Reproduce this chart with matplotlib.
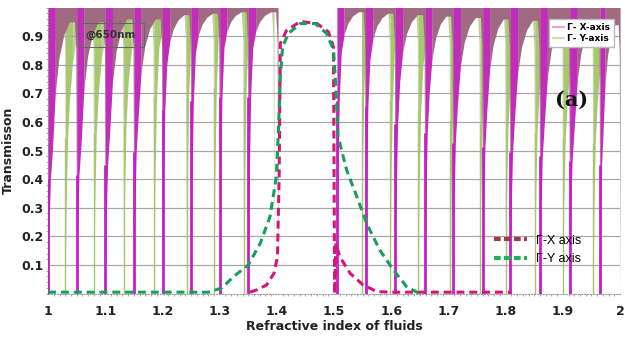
import numpy as np
import matplotlib.pyplot as plt
from matplotlib.lines import Line2D
from matplotlib.ticker import MultipleLocator

# resonance dips of the background spectra (refractive index positions)
x_dips = [1.000, 1.050, 1.100, 1.150, 1.200, 1.250, 1.300, 1.350, 1.402,
          1.505, 1.555, 1.607, 1.659, 1.708, 1.760, 1.808, 1.860, 1.912,
          1.965, 2.000]
# level of the lower envelope a little after each dip, and the arch top
x_shoulder = [0.5, 0.52, 0.56, 0.62, 0.8, 0.84, 0.86, 0.86, 1.0, 0.84,
              0.82, 0.74, 0.7, 0.66, 0.64, 0.62, 0.6, 0.58, 0.56]
x_peak = [0.95, 0.95, 0.96, 0.96, 0.975, 0.98, 0.985, 0.985, 1.0, 0.985, 0.98,
          0.975, 0.97, 0.965, 0.96, 0.955, 0.95, 0.95, 0.94]

y_dips = [1.000, 1.030, 1.080, 1.132, 1.185, 1.242, 1.290, 1.342, 1.395,
          1.548, 1.598, 1.647, 1.703, 1.755, 1.800, 1.851, 1.900, 1.953,
          2.000]
y_shoulder = [0.66, 0.68, 0.7, 0.74, 0.86, 0.88, 0.9, 0.9, 1.0, 0.88, 0.84,
              0.8, 0.76, 0.74, 0.72, 0.7, 0.68, 0.66]
y_peak = [0.96, 0.96, 0.97, 0.97, 0.98, 0.98, 0.985, 0.985, 1.0, 0.985, 0.98,
          0.975, 0.97, 0.97, 0.96, 0.96, 0.96, 0.95]

# transmission at 650 nm along the two directions
gx_n = [1.353, 1.365, 1.382, 1.395, 1.401, 1.404, 1.406, 1.417, 1.441, 1.470,
        1.490, 1.499, 1.501, 1.503, 1.510, 1.528, 1.551, 1.575, 1.600, 1.810]
gx_t = [0.005, 0.013, 0.03, 0.071, 0.129, 0.41, 0.875, 0.92, 0.951, 0.944,
        0.915, 0.862, 0.0, 0.176, 0.129, 0.071, 0.03, 0.007, 0.005, 0.005]

gy_n = [1.000, 1.280, 1.304, 1.324, 1.350, 1.371, 1.388, 1.399, 1.403, 1.406,
        1.410, 1.420, 1.441, 1.467, 1.487, 1.499, 1.502, 1.505, 1.507, 1.522,
        1.540, 1.557, 1.580, 1.604, 1.627, 1.645, 1.650]
gy_t = [0.005, 0.005, 0.02, 0.059, 0.10, 0.176, 0.269, 0.408, 0.583, 0.758,
        0.862, 0.909, 0.944, 0.944, 0.909, 0.852, 0.758, 0.642, 0.549, 0.432,
        0.338, 0.245, 0.152, 0.082, 0.024, 0.005, 0.0]

x_ticks = [1.0, 1.1, 1.2, 1.3, 1.4, 1.5, 1.6, 1.7, 1.8, 1.9, 2.0]
x_ticklabels = ['1', '1.1', '1.2', '1.3', '1.4', '1.5', '1.6', '1.7', '1.8', '1.9', '2']
y_ticks = [0.1, 0.2, 0.3, 0.4, 0.5, 0.6, 0.7, 0.8, 0.9]

# shape of one arch between two dips: fraction of the gap, weights on shoulder / peak
ARCH_T = [0.0, 0.03, 0.08, 0.15, 0.25, 0.38, 0.55, 0.75, 0.92, 0.97, 1.0]
ARCH_A = [0.0, 0.45, 0.8, 1.0, 0.55, 0.28, 0.1, 0.0, 0.0, 0.0, 0.0]
ARCH_B = [0.0, 0.0, 0.0, 0.0, 0.45, 0.72, 0.9, 1.0, 1.0, 0.9, 0.0]
WEDGE_END = 5   # points 0..4 form the coloured wedge next to the dip


def draw_band(ax, dips, shoulder, peak, wedge_col, band_col, line_col, lw, z):
    for i in range(len(dips) - 1):
        if shoulder[i] >= 1.0:
            continue   # flat stretch, no resonances
        a, b = dips[i], dips[i + 1]
        xs = np.array([a + (b - a) * t for t in ARCH_T])
        ys = np.array([wa * shoulder[i] + wb * peak[i]
                       for wa, wb in zip(ARCH_A, ARCH_B)])
        ax.fill_between(xs[WEDGE_END - 1:], ys[WEDGE_END - 1:], 1.0,
                        color=band_col, lw=0, zorder=z)
        ax.fill_between(xs[:WEDGE_END], ys[:WEDGE_END], 1.0,
                        color=wedge_col, lw=0, zorder=z + 0.1)
        ax.plot([a, a], [0.0, 0.8 * shoulder[i]], color=line_col,
                lw=lw, zorder=z + 0.2, solid_capstyle='butt')


fig = plt.figure(figsize=(6.25, 3.41), dpi=100)
ax = fig.add_axes([0.077, 0.139, 0.915, 0.839])

draw_band(ax, y_dips, y_shoulder, y_peak, '#a8c86e', '#bccf9c', '#a6c86b', 1.0, 1)
draw_band(ax, x_dips, x_shoulder, x_peak, '#c22cba', '#a06a82', '#c81ec8', 2.0, 3)

ax.plot(gx_n, gx_t, color='#d4167a', lw=2.2, dashes=(2.6, 1.6), zorder=6)
ax.plot(gy_n, gy_t, color='#1a9e5c', lw=2.2, dashes=(2.6, 1.6), zorder=7)

ax.set_xlim(1.0, 2.0)
ax.set_ylim(0.0, 1.0)
ax.set_xticks(x_ticks)
ax.set_xticklabels(x_ticklabels)
ax.set_yticks(y_ticks)
ax.xaxis.set_minor_locator(MultipleLocator(0.01))
ax.yaxis.set_minor_locator(MultipleLocator(0.02))
ax.tick_params(which='major', length=0, labelsize=9, labelcolor='#222222')
ax.tick_params(axis='x', which='major', pad=8)
ax.tick_params(axis='y', which='major', pad=3)
ax.tick_params(which='minor', length=1.5, color='#999999')
for lab in ax.get_xticklabels() + ax.get_yticklabels():
    lab.set_fontweight('bold')
ax.grid(axis='y', color='#a8a8a8', lw=0.9, zorder=0)
for s in ['top', 'right']:
    ax.spines[s].set_visible(False)
for s in ['left', 'bottom']:
    ax.spines[s].set_color('#999999')
    ax.spines[s].set_linestyle(':')

ax.set_xlabel('Refractive index of fluids', fontsize=9, fontweight='bold', color='#222222', labelpad=2)
ax.set_ylabel('Transmisson', fontsize=9, fontweight='bold', color='#222222', labelpad=5)

ax.text(0.110, 0.904, '@650nm', transform=ax.transAxes, ha='center', va='center',
        fontsize=7.5, fontweight='bold', color='#333333', zorder=9,
        bbox=dict(boxstyle='square,pad=0.7', fc='none', ec='#666666', lw=0.8))
ax.text(0.916, 0.676, '(a)', transform=ax.transAxes, ha='center', va='center',
        fontsize=15, fontweight='bold', family='DejaVu Serif', color='#111111', zorder=9)

top_handles = [Line2D([], [], color='#f08ad0', lw=1.2),
               Line2D([], [], color='#b8d890', lw=1.2)]
leg1 = ax.legend(top_handles, ['Γ- X-axis', 'Γ- Y-axis'], loc='upper right',
                 bbox_to_anchor=(0.997, 0.975), handlelength=1.2,
                 handletextpad=0.4, borderpad=0.4, labelspacing=0.3,
                 framealpha=1.0, edgecolor='#bbbbbb', fancybox=False,
                 prop={'weight': 'bold', 'size': 6.5})
leg1.set_zorder(10)
ax.add_artist(leg1)

dash_handles = [Line2D([], [], color='#a33a4c', lw=3, dashes=(1.6, 0.8)),
                Line2D([], [], color='#1fb35c', lw=3, dashes=(1.6, 0.8))]
leg2 = ax.legend(dash_handles, ['Γ-X axis', 'Γ-Y axis'], loc='upper left',
                 bbox_to_anchor=(0.76, 0.245), frameon=False, handlelength=2.6,
                 handletextpad=0.8, labelspacing=0.5,
                 prop={'family': 'Liberation Sans', 'size': 9})
leg2.set_zorder(10)

fig.savefig('out.png', dpi=100)
